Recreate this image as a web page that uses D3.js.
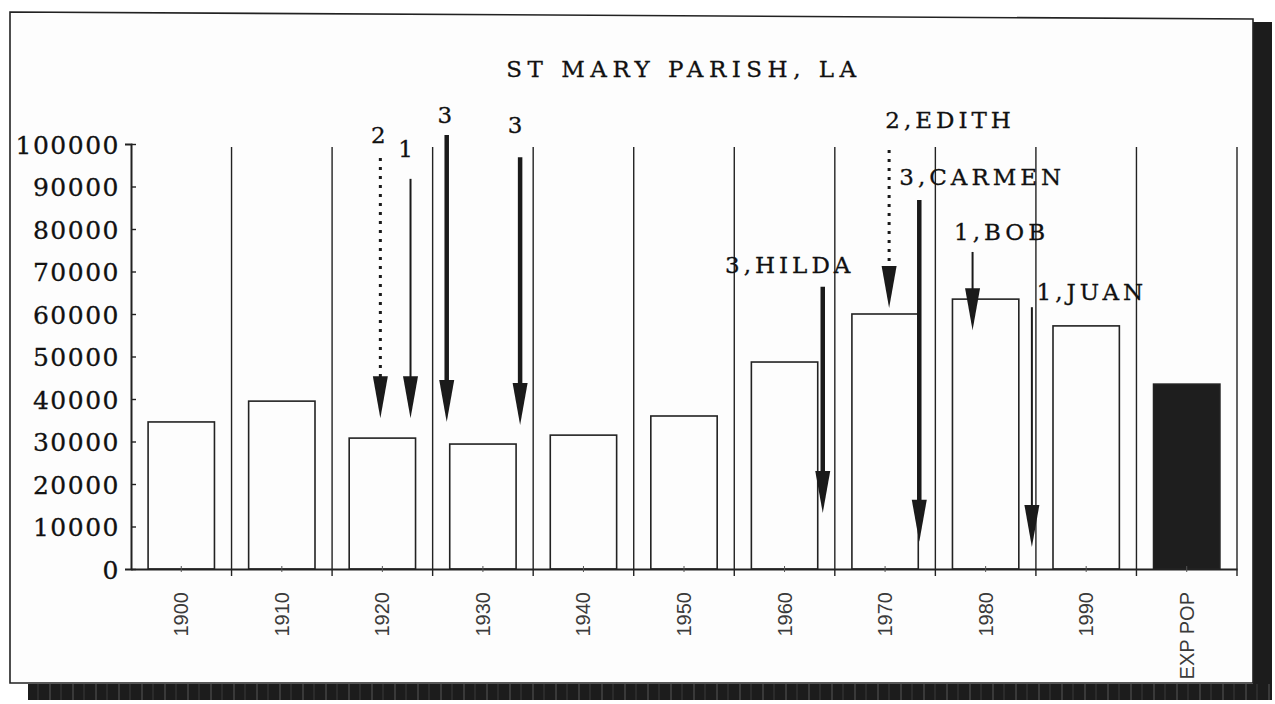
<!DOCTYPE html>
<html lang="en">

<head>
    <meta charset="utf-8">
    <title>St Mary Parish, LA</title>
    <script src="https://d3js.org/d3.v7.min.js"></script>
    <style>
        body { margin: 0; background: #fff; }
        .serif { font-family: "DejaVu Serif", serif; fill: #111; stroke: #111; stroke-width: 0.3px; }
    </style>
</head>

<body>
    <svg width="1275" height="704"></svg>

    <script>
        // census decades + expected population
        const categories = ["1900", "1910", "1920", "1930", "1940", "1950", "1960", "1970", "1980", "1990", "EXP POP"];
        const population = [34600, 39500, 30800, 29400, 31500, 36000, 48700, 60000, 63500, 57200, 43500];
        const yTicks = [0, 10000, 20000, 30000, 40000, 50000, 60000, 70000, 80000, 90000, 100000];

        // hurricane landfalls: year, category, name, arrow start / tip (population units)
        const stormYears = [1919.8, 1922.8, 1926.4, 1933.7, 1963.8, 1970.4, 1973.4, 1978.7, 1984.6];
        const stormCats = [2, 1, 3, 3, 3, 2, 3, 1, 1];
        const stormNames = ["", "", "", "", "HILDA", "EDITH", "CARMEN", "BOB", "JUAN"];
        const arrowTop = [96700, 91800, 102100, 96900, 66400, 98600, 86800, 74600, 61600];
        const arrowTip = [35500, 35500, 34600, 33900, 13200, 61400, 6400, 56200, 5200];

        const svg = d3.select("svg");

        const plotLeft = 131, plotRight = 1237, plotTop = 144, plotBottom = 569;

        const x = d3.scaleBand()
            .domain(categories)
            .range([plotLeft, plotRight])
            .paddingInner(0.34)
            .paddingOuter(0.17);

        const xYear = d3.scaleLinear()
            .domain([1895, 2005])
            .range([plotLeft, plotRight]);

        const y = d3.scaleLinear()
            .domain([0, 100000])
            .range([plotBottom, plotTop]);

        // scanned frame with drop shadow
        const defs = svg.append("defs");
        const pat = defs.append("pattern")
            .attr("id", "scan")
            .attr("width", 23)
            .attr("height", 10)
            .attr("patternUnits", "userSpaceOnUse");
        pat.append("rect").attr("width", 23).attr("height", 10).attr("fill", "#1c1c1c");
        pat.append("line").attr("x1", 4).attr("x2", 4).attr("y1", 0).attr("y2", 10)
            .attr("stroke", "#555").attr("stroke-width", 1);
        pat.append("line").attr("x1", 15).attr("x2", 15).attr("y1", 0).attr("y2", 10)
            .attr("stroke", "#3a3a3a").attr("stroke-width", 1);

        svg.append("rect")
            .attr("x", 1253).attr("y", 22)
            .attr("width", 19).attr("height", 678)
            .attr("fill", "#1c1c1c");
        svg.append("rect")
            .attr("x", 28).attr("y", 684)
            .attr("width", 1244).attr("height", 16)
            .attr("fill", "url(#scan)");

        svg.append("path")
            .attr("d", "M10,12 L1253,19 L1253,683 L10,683 Z")
            .attr("fill", "#fdfdfd")
            .attr("stroke", "#222")
            .attr("stroke-width", 1.6);

        // title
        svg.append("text")
            .attr("class", "serif")
            .attr("x", 684)
            .attr("y", 77)
            .attr("text-anchor", "middle")
            .attr("font-size", 23)
            .attr("letter-spacing", 5.5)
            .text("ST MARY PARISH, LA");

        // decade separators
        const step = x.step();
        const seps = categories.map((c, i) => x(c) - x.paddingInner() * step / 2 + step);
        svg.append("g")
            .selectAll("line")
            .data(seps)
            .join("line")
            .attr("x1", d => d)
            .attr("x2", d => d)
            .attr("y1", y(99300))
            .attr("y2", plotBottom + 7)
            .attr("stroke", "#222")
            .attr("stroke-width", 1.4);

        // bars
        svg.append("g")
            .selectAll("rect")
            .data(categories)
            .join("rect")
            .attr("x", d => x(d))
            .attr("y", (d, i) => y(population[i]))
            .attr("width", x.bandwidth())
            .attr("height", (d, i) => plotBottom - y(population[i]))
            .attr("fill", (d, i) => i === categories.length - 1 ? "#1e1e1e" : "#fdfdfd")
            .attr("stroke", "#222")
            .attr("stroke-width", 1.6);

        // y axis
        const yAxis = svg.append("g")
            .attr("transform", `translate(${plotLeft},0)`)
            .call(d3.axisLeft(y).tickValues(yTicks).tickSize(6).tickPadding(5).tickFormat(d3.format("d")));
        yAxis.select(".domain").attr("stroke", "#222").attr("stroke-width", 2);
        yAxis.selectAll(".tick line").attr("x2", 5).attr("stroke", "#222").attr("stroke-width", 1.4);
        yAxis.selectAll(".tick text")
            .attr("class", "serif")
            .attr("font-size", 25)
            .attr("letter-spacing", 1.5)
            .attr("dy", "0.36em");

        // x axis
        const xAxis = svg.append("g")
            .attr("transform", `translate(0,${plotBottom})`)
            .call(d3.axisBottom(x).tickSize(3).tickSizeOuter(0));
        xAxis.select(".domain").attr("stroke", "#222").attr("stroke-width", 2);
        xAxis.selectAll(".tick line").attr("y1", -3).attr("stroke", "#555");
        xAxis.selectAll(".tick text")
            .attr("transform", "rotate(-90)")
            .attr("x", -23)
            .attr("y", 0)
            .attr("dy", "0.35em")
            .attr("text-anchor", "end")
            .attr("font-family", "Liberation Sans, Arial, sans-serif")
            .attr("font-size", 20)
            .attr("fill", "#3a3a3a");

        // hurricane arrows
        const storms = stormYears.map((yr, i) => ({
            yr, cat: stormCats[i], name: stormNames[i], y0: arrowTop[i], y1: arrowTip[i]
        }));
        const labelShift = [[0, -15], [-3, -22], [0, -12], [-3, -24], [-33, -14], [61, -22], [63, -15], [29, -12], [60, -7]];
        const headLen = 42, headHalf = 7.5;

        const arrows = svg.append("g").selectAll("g")
            .data(storms)
            .join("g");

        arrows.append("line")
            .attr("x1", d => xYear(d.yr))
            .attr("x2", d => xYear(d.yr))
            .attr("y1", d => y(d.y0))
            .attr("y2", d => y(d.y1) - headLen + 2)
            .attr("stroke", "#1a1a1a")
            .attr("stroke-width", d => d.cat === 3 ? 4.5 : d.cat === 2 ? 3 : 2)
            .attr("stroke-dasharray", d => d.cat === 2 ? "3,6" : null);

        arrows.append("path")
            .attr("d", d => {
                const cx = xYear(d.yr), ty = y(d.y1);
                return `M${cx},${ty} L${cx - headHalf},${ty - headLen} L${cx + headHalf},${ty - headLen} Z`;
            })
            .attr("fill", "#1a1a1a");

        arrows.append("text")
            .attr("class", "serif")
            .attr("x", (d, i) => xYear(d.yr) + labelShift[i][0])
            .attr("y", (d, i) => y(d.y0) + labelShift[i][1])
            .attr("text-anchor", "middle")
            .attr("font-size", 23)
            .attr("letter-spacing", 4)
            .text(d => d.name ? `${d.cat},${d.name}` : d.cat);
    </script>
</body>

</html>
